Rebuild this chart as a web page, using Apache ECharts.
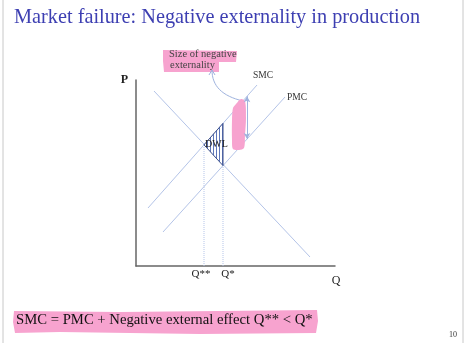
<!DOCTYPE html>
<html><head><meta charset="utf-8">
<script src="https://cdn.jsdelivr.net/npm/echarts@6/dist/echarts.min.js"></script>
<style>html,body{margin:0;padding:0;background:#fff}#c{width:472px;height:343px}</style>
</head><body><div id="c"></div>
<script>
// Data (axis units: Q 0..199, P 0..186)
const demandLine = [[18,175],[174,9]];
const smcLine = [[12,58],[121,181]];
const pmcLine = [[27,34],[149,169]];
const qValues = [68, 87];           // Q**, Q*
const qLabels = ['Q**', 'Q*'];
const curveNames = ['SMC', 'PMC'];
const arrowQ = 111;                  // where the externality gap is marked

function yAt(line, x){
  const [[x1,y1],[x2,y2]] = line;
  return y1 + (y2-y1)*(x-x1)/(x2-x1);
}
const qss = qValues[0], qs = qValues[1];
const dwl = [[qss, yAt(smcLine,qss)], [qs, yAt(smcLine,qs)], [qs, yAt(pmcLine,qs)]];

const SERIF = "'Liberation Serif','DejaVu Serif',serif";
const LBLUE = '#b4c4e8';
const qLabelShift = [-3, 5];

// hatch pattern
const pc = document.createElement('canvas');
pc.width = 3; pc.height = 3;
const pctx = pc.getContext('2d');
pctx.fillStyle = '#ffffff'; pctx.fillRect(0,0,3,3);
pctx.fillStyle = '#5f78bb'; pctx.fillRect(0,0,1,3);

const chart = echarts.init(document.getElementById('c'), null, {renderer:'canvas'});
const option = {
  backgroundColor:'#fff',
  animation:false,
  grid:{left:136, right:137, top:80, bottom:77},
  xAxis:{type:'value', min:0, max:199, name:'Q', nameLocation:'end', nameGap:0,
    nameTextStyle:{fontFamily:SERIF, fontSize:12, color:'#222', align:'center', verticalAlign:'top', padding:[9,0,0,2]},
    axisLine:{show:true, lineStyle:{color:'#666', width:1.5}}, axisTick:{show:false}, axisLabel:{show:false}, splitLine:{show:false}},
  yAxis:{type:'value', min:0, max:186, name:'P', nameLocation:'end', nameGap:0,
    nameTextStyle:{fontFamily:SERIF, fontSize:12, fontWeight:'bold', color:'#222', align:'right', verticalAlign:'middle', padding:[0,8,0,0]},
    axisLine:{show:true, lineStyle:{color:'#666', width:1.5}}, axisTick:{show:false}, axisLabel:{show:false}, splitLine:{show:false}},
  series:[
    {type:'line', data:demandLine, showSymbol:false, lineStyle:{color:LBLUE, width:1}, silent:true},
    {type:'line', name:curveNames[0], data:smcLine, showSymbol:false, lineStyle:{color:LBLUE, width:1},
      endLabel:{show:true, formatter:curveNames[0], fontFamily:SERIF, fontSize:9.5, color:'#333', offset:[-12,-10]}},
    {type:'line', name:curveNames[1], data:pmcLine, showSymbol:false, lineStyle:{color:LBLUE, width:1},
      endLabel:{show:true, formatter:curveNames[1], fontFamily:SERIF, fontSize:9.5, color:'#333', offset:[-6,0]},
      markLine:{silent:true, z:25, symbol:['arrow','arrow'], symbolSize:[5,6], label:{show:false},
        lineStyle:{color:'#9fb3de', width:1, type:'solid'},
        data:[[{coord:[arrowQ, yAt(smcLine,arrowQ)]},{coord:[arrowQ, yAt(pmcLine,arrowQ)]}]]}},
    ...qValues.map((q,i)=>({type:'line', data:[[q,0],[q, i===0 ? yAt(demandLine,q) : yAt(pmcLine,q)]], showSymbol:false,
      lineStyle:{color:LBLUE, width:1, type:'dotted'},
      label:{show:false},
      markPoint:{symbol:'circle', symbolSize:0, data:[{coord:[q,0]}],
        label:{show:true, position:'bottom', distance:3, offset:[qLabelShift[i],0], formatter:qLabels[i], fontFamily:SERIF, fontSize:11, color:'#222'}}})),
    {type:'custom', data:[[0]], z:5, renderItem:(params, api)=>{
      const pts = dwl.map(p=>api.coord(p));
      return {type:'group', children:[
        {type:'polygon', shape:{points:pts}, style:{fill:{image:pc, repeat:'repeat'}, stroke:'#3c4f8a', lineWidth:1}},
        {type:'text', style:{text:'DWL', x:pts[0][0]+1, y:pts[0][1], verticalAlign:'middle', font:"10px "+SERIF, fill:'#222'}}
      ]};
    }}
  ],
  graphic:[
    {type:'line', shape:{x1:3,y1:0,x2:3,y2:343}, style:{stroke:'#c8c8c8', lineWidth:1}},
    {type:'line', shape:{x1:463,y1:0,x2:463,y2:343}, style:{stroke:'#c8c8c8', lineWidth:1}},
    {type:'text', left:14, top:8, style:{text:'Market failure: Negative externality in production', font:"20.3px "+SERIF, fill:'#3d3fb2'}},
    // label highlight
    {type:'polygon', z:1, shape:{points:[[163,50],[237,51],[236,62],[219,62],[219,72],[164,72],[163,61]]}, style:{fill:'#f7a3cf'}},
    {type:'text', z:2, left:169, top:49, style:{text:'Size of negative', font:"10.5px "+SERIF, fill:'#444'}},
    {type:'text', z:2, left:170, top:60, style:{text:'externality', font:"10.5px "+SERIF, fill:'#444'}},
    // curved arrow
    {type:'bezierCurve', z:3, shape:{x1:243,y1:101,cpx1:222,cpy1:96,cpx2:212,cpy2:86,x2:212,y2:70}, style:{stroke:'#9fb3de', lineWidth:1, fill:null}},
    {type:'polyline', z:3, shape:{points:[[209,75],[212,70],[215,75]]}, style:{stroke:'#9fb3de', lineWidth:1, fill:null}},
    // pink blob
    {type:'polygon', z:20, shape:{points:[[236,104],[241,99],[245,101],[246,118],[245,135],[244,148],[239,150],[233,149],[232,140],[232,120],[233,108]], smooth:0.3}, style:{fill:'#f7a3cf'}},
    // bottom text
    {type:'polygon', z:1, shape:{points:[[14,311],[120,312],[317,310],[318,321],[316,333],[200,334],[60,332],[15,333],[13,322]]}, style:{fill:'#f7a3cf'}},
    {type:'text', z:2, left:16, top:313, style:{text:'SMC = PMC + Negative external effect Q** < Q*', font:"14.7px "+SERIF, fill:'#111'}},
    {type:'text', left:449, top:331, style:{text:'10', font:"8px "+SERIF, fill:'#333'}}
  ]
};
chart.setOption(option);
</script></body></html>
